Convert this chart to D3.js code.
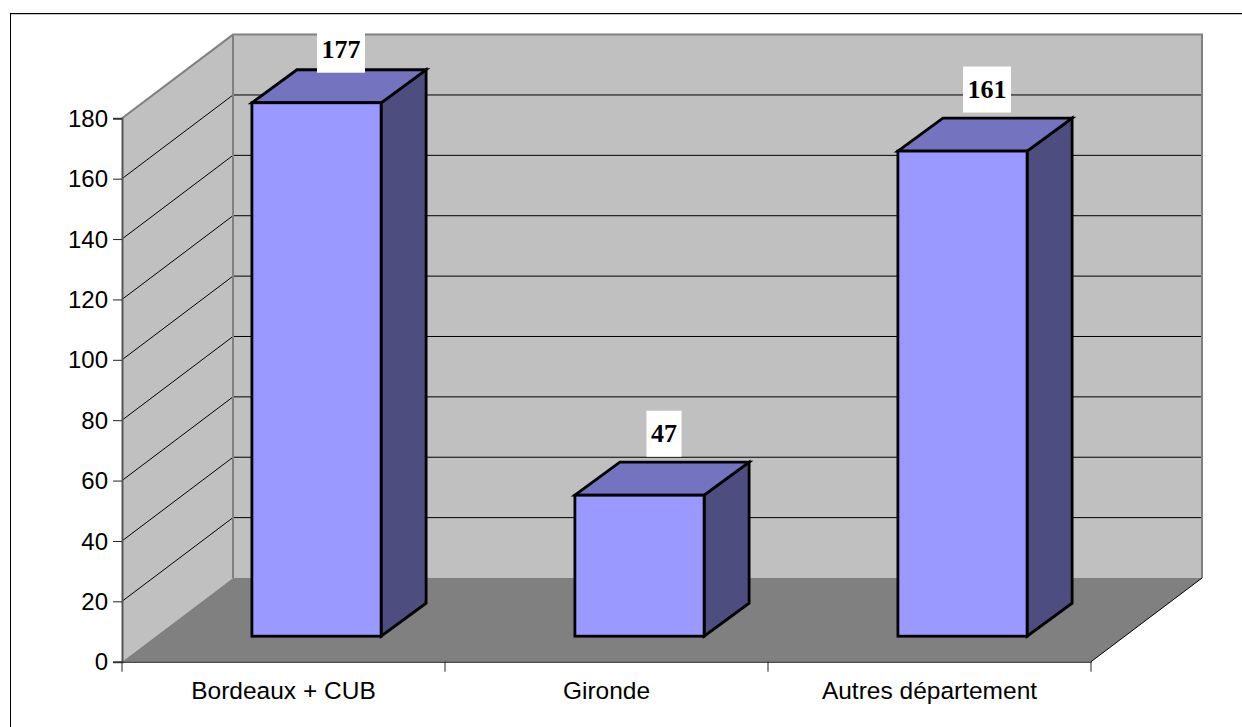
<!DOCTYPE html>
<html>
<head>
<meta charset="utf-8">
<script src="https://cdn.jsdelivr.net/npm/d3@7"></script>
<style>
html, body { margin: 0; padding: 0; background: #fff; overflow: hidden; }
svg { display: block; }
text { font-family: "Liberation Sans", Arial, sans-serif; fill: #000; }
</style>
</head>
<body>
<div id="chart"></div>
<script>
var categories = ['Bordeaux + CUB', 'Gironde', 'Autres département'];
var values = [177, 47, 161];
var yTicks = [0, 20, 40, 60, 80, 100, 120, 140, 160, 180];

var width = 1242, height = 727;

// plot box, front face of the 3d walls
var plotL = 122, plotR = 1091, plotT = 118.3, plotB = 661.7;
// how far the back wall sits from the front, and the bars from the front
var depthX = 111, depthY = -83.7;
var barOffX = 33, barOffY = -25.5, barTopOffY = -24.6;
var barDepthX = 45, barDepthY = -33;

var svg = d3.select('#chart').append('svg')
    .attr('width', width)
    .attr('height', height);

var x = d3.scaleBand()
    .domain(categories)
    .range([plotL, plotR])
    .paddingInner(0.6)
    .paddingOuter(0.3);

var xAxisScale = d3.scaleBand()
    .domain(categories)
    .range([plotL, plotR]);

var y = d3.scaleLinear()
    .domain([0, 180])
    .range([plotB, plotT]);

function pts(a) { return a.map(p => p.join(',')).join(' '); }

// outer frame, only top and left fall inside the picture
svg.append('line').attr('x1', 10).attr('x2', width).attr('y1', 14.5).attr('y2', 14.5)
    .attr('stroke', '#c8c8c8').attr('stroke-width', 1);
svg.append('line').attr('x1', 10).attr('x2', width).attr('y1', 13.5).attr('y2', 13.5)
    .attr('stroke', '#000').attr('stroke-width', 1);
svg.append('line').attr('x1', 10.5).attr('x2', 10.5).attr('y1', 13).attr('y2', height)
    .attr('stroke', '#000').attr('stroke-width', 1);

// walls
svg.append('polygon')
    .attr('points', pts([[plotL + depthX, plotT + depthY], [plotR + depthX, plotT + depthY], [plotR + depthX, plotB + depthY], [plotL + depthX, plotB + depthY]]))
    .attr('fill', '#c0c0c0');
svg.append('polygon')
    .attr('points', pts([[plotL, plotT], [plotL + depthX, plotT + depthY], [plotL + depthX, plotB + depthY], [plotL, plotB]]))
    .attr('fill', '#c0c0c0');
svg.append('polygon')
    .attr('points', pts([[plotL, plotB], [plotL + depthX, plotB + depthY], [plotR + depthX, plotB + depthY], [plotR, plotB]]))
    .attr('fill', '#808080');

// gridlines
var grid = svg.append('g').attr('fill', 'none').attr('stroke', '#000').attr('stroke-width', 1);
yTicks.slice(1, -1).forEach(function (t) {
    grid.append('polyline')
        .attr('points', pts([[plotL, y(t)], [plotL + depthX, y(t) + depthY], [plotR + depthX, y(t) + depthY]]));
});

// wall edges
svg.append('polyline')
    .attr('points', pts([[plotL, plotT], [plotL + depthX, plotT + depthY], [plotR + depthX, plotT + depthY], [plotR + depthX, plotB + depthY]]))
    .attr('fill', 'none').attr('stroke', '#808080').attr('stroke-width', 2);
svg.append('line')
    .attr('x1', plotL + depthX).attr('x2', plotL + depthX)
    .attr('y1', plotT + depthY).attr('y2', plotB + depthY)
    .attr('stroke', '#808080').attr('stroke-width', 2);
svg.append('line')
    .attr('x1', plotR).attr('x2', plotR + depthX)
    .attr('y1', plotB).attr('y2', plotB + depthY)
    .attr('stroke', '#000').attr('stroke-width', 1);

// y axis
var yAxis = svg.append('g')
    .attr('transform', `translate(${plotL},0)`)
    .call(d3.axisLeft(y).tickValues(yTicks).tickSize(9).tickPadding(5).tickFormat(String));
yAxis.select('.domain').attr('stroke', '#555').attr('stroke-width', 2);
yAxis.selectAll('.tick line').attr('stroke', '#222');
yAxis.selectAll('text')
    .style('font-size', '24px')
    .attr('dy', '0.34em');

// x axis
var xAxis = svg.append('g')
    .attr('transform', `translate(0,${plotB})`)
    .call(d3.axisBottom(xAxisScale).tickSize(0).tickPadding(20));
xAxis.select('.domain').attr('stroke', '#000').attr('stroke-width', 1);
xAxis.selectAll('text').style('font-size', '24.5px');

svg.append('g').selectAll('line')
    .data(categories.concat(['end']))
    .enter()
    .append('line')
    .attr('x1', (d, i) => plotL + i * xAxisScale.step())
    .attr('x2', (d, i) => plotL + i * xAxisScale.step())
    .attr('y1', plotB)
    .attr('y2', plotB + 10)
    .attr('stroke', '#222');

// bars
var bars = svg.append('g').selectAll('g')
    .data(values)
    .enter()
    .append('g')
    .attr('stroke', '#000')
    .attr('stroke-width', 2.8)
    .attr('stroke-linejoin', 'miter');

function bx(i) { return x(categories[i]) + barOffX; }
function bw() { return x.bandwidth(); }
function by0() { return plotB + barOffY; }
function by1(d) { return y(d) + barTopOffY; }

bars.append('polygon')
    .attr('fill', '#4d4d80')
    .attr('points', (d, i) => pts([
        [bx(i) + bw(), by1(d)],
        [bx(i) + bw() + barDepthX, by1(d) + barDepthY],
        [bx(i) + bw() + barDepthX, by0() + barDepthY],
        [bx(i) + bw(), by0()]]));

bars.append('polygon')
    .attr('fill', '#7373bf')
    .attr('points', (d, i) => pts([
        [bx(i), by1(d)],
        [bx(i) + barDepthX, by1(d) + barDepthY],
        [bx(i) + bw() + barDepthX, by1(d) + barDepthY],
        [bx(i) + bw(), by1(d)]]));

bars.append('rect')
    .attr('fill', '#9999ff')
    .attr('x', (d, i) => bx(i))
    .attr('y', d => by1(d))
    .attr('width', bw())
    .attr('height', d => by0() - by1(d));

// value labels, white boxes. the tallest one gets pushed down by the frame
var boxH = 46;
function boxBottom(d) { return Math.max(by1(d) - 38.5, 72.7); }

var labels = svg.append('g').selectAll('g')
    .data(values)
    .enter()
    .append('g');

labels.append('rect')
    .attr('fill', '#fff')
    .attr('x', (d, i) => bx(i) + bw() / 2 + 24.5 - (String(d).length * 13 + 9) / 2)
    .attr('y', d => boxBottom(d) - boxH)
    .attr('width', d => String(d).length * 13 + 9)
    .attr('height', boxH);

labels.append('text')
    .attr('x', (d, i) => bx(i) + bw() / 2 + 24.5)
    .attr('y', d => boxBottom(d) - 14.5)
    .attr('text-anchor', 'middle')
    .style('font-family', '"Liberation Serif", "Times New Roman", serif')
    .style('font-weight', 'bold')
    .style('font-size', '26px')
    .text(d => d);
</script>
</body>
</html>
